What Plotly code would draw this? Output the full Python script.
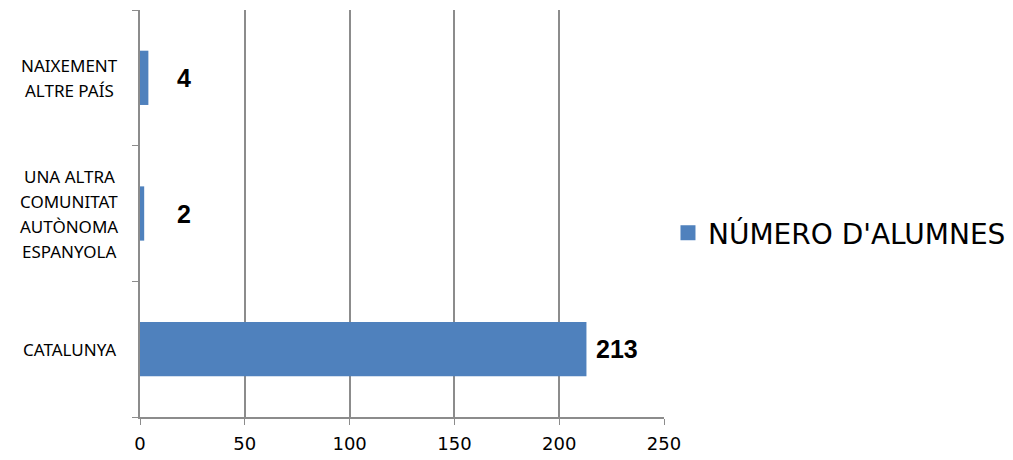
import plotly.graph_objects as go

categories = ["CATALUNYA", "UNA ALTRA<br>COMUNITAT<br>AUTÒNOMA<br>ESPANYOLA", "NAIXEMENT<br>ALTRE PAÍS"]
values = [213, 2, 4]
series_name = "NÚMERO D'ALUMNES"
x_ticks = [0, 50, 100, 150, 200, 250]

bar_color = "#4F81BD"
grid_color = "#8C8C8C"
label_shift = [8, 31, 27]

fig = go.Figure()
fig.add_trace(go.Bar(
    y=list(range(len(categories))), x=values, orientation="h",
    name=series_name, marker=dict(color=bar_color, line=dict(width=0)),
    width=0.4, showlegend=False,
))
# legend entry with a larger square symbol
fig.add_trace(go.Scatter(
    x=[None], y=[None], mode="markers", name=series_name,
    marker=dict(symbol="square", size=15, color=bar_color), showlegend=True,
))

# category labels (centered, multi-line)
for i, cat in enumerate(categories):
    lines = cat.split("<br>")
    n = len(lines)
    for j, ln in enumerate(lines):
        fig.add_annotation(
            x=-0.135, xref="paper", y=i, yref="y", text=ln, showarrow=False,
            xanchor="center", yanchor="middle", yshift=((n - 1) / 2 - j) * 25,
            font=dict(family="Noto Sans", size=17, color="#000"),
        )

# data labels
for i, v in enumerate(values):
    fig.add_annotation(
        x=v, y=i, xref="x", yref="y", text="<b>%d</b>" % v, showarrow=False,
        xanchor="left", yanchor="middle", xshift=label_shift[i],
        font=dict(family="Liberation Sans", size=25, color="#000"),
    )

fig.update_layout(
    width=1013, height=460,
    margin=dict(l=140, r=349, t=10, b=43, autoexpand=False),
    paper_bgcolor="white", plot_bgcolor="white",
    bargap=0.6,
    legend=dict(x=1.0076, y=0.452, xanchor="left", yanchor="middle",
                font=dict(family="DejaVu Sans", size=28, color="#000"),
                itemwidth=30),
    xaxis=dict(range=[0, 250], tickvals=x_ticks, showgrid=True, gridcolor=grid_color,
               gridwidth=1.5, showline=True, linecolor=grid_color, linewidth=1.5,
               ticks="outside", ticklen=6, tickcolor=grid_color,
               ticklabelstandoff=4,
               tickfont=dict(family="DejaVu Sans", size=18, color="#000"),
               zeroline=False, fixedrange=True),
    yaxis=dict(range=[-0.5, 2.5], tickvals=[-0.5, 0.5, 1.5, 2.5], ticktext=["", "", "", ""],
               showgrid=False, showline=True, linecolor=grid_color, linewidth=1.5,
               ticks="outside", ticklen=6, tickcolor=grid_color, zeroline=False,
               fixedrange=True),
)

fig.write_html("out.html")
